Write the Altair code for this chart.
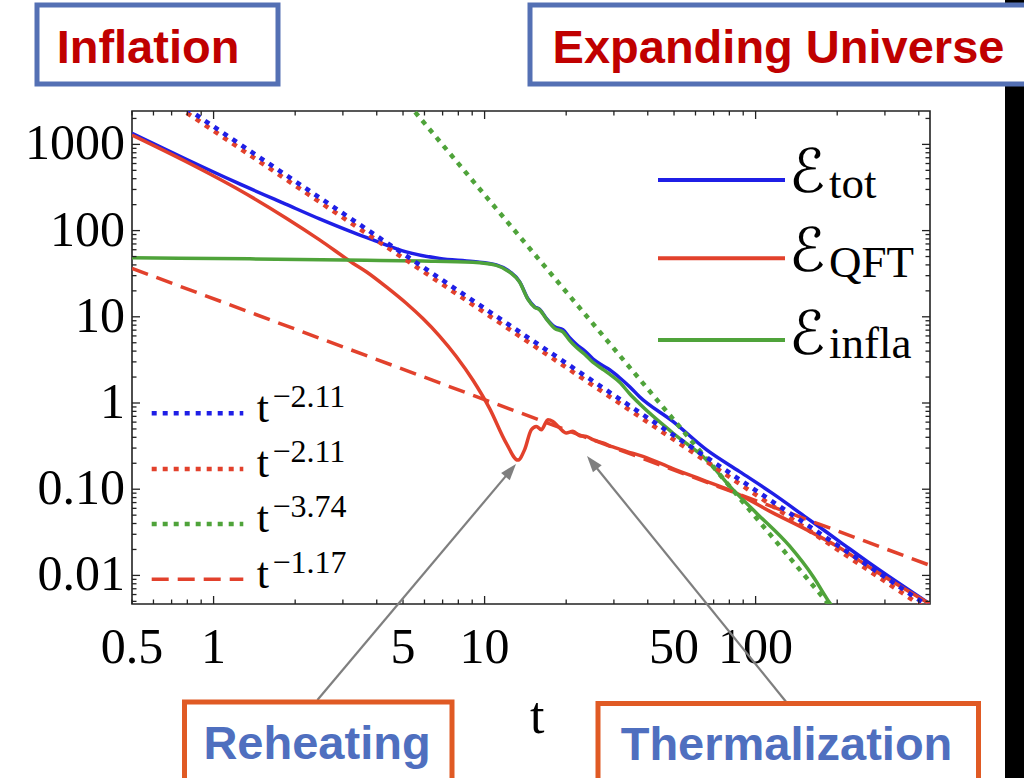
import altair as alt
import pandas as pd

# ---------------- energy densities vs time ----------------
t_tot = [0.5, 0.793, 1.213, 1.855, 2.461, 3.266, 3.871, 5.14, 6.82, 9.05, 11.05, 12.37,
         13.46, 14.45, 15.30, 15.96, 16.89, 18.13, 19.45, 20.59, 21.80, 23.39, 25.09,
         26.96, 28.93, 31.5, 34.3, 37.3, 49.5, 65.8, 87.3, 115.8, 153.9, 204.2, 271, 438]
e_tot = [1345, 672, 361.9, 201.2, 136.6, 95.3, 78.0, 56.6, 47.6, 43.7, 40.0, 33.5,
         25.6, 16.2, 13.06, 12.22, 9.61, 7.66, 7.07, 5.71, 4.80, 4.04, 3.26,
         2.78, 2.43, 1.965, 1.545, 1.183, 0.612, 0.2877, 0.16, 0.0889, 0.0469, 0.0247, 0.01302, 0.0047]

t_qft = [0.5, 0.793, 1.213, 1.855, 2.461, 3.266, 3.66, 4.338, 5.14, 5.92, 6.82, 7.863,
         9.05, 10.43, 12.03, 13.27, 14.05, 14.87, 15.52, 16.19, 17.12, 17.87, 18.92,
         20.02, 21.18, 22.41, 23.73, 25.09, 27.33, 29.75, 33.33, 38.38, 49.5, 65.8, 82.5,
         115.8, 153.9, 204.2, 271, 438]
e_qft = [1285, 630, 310, 139.2, 78.0, 41.9, 33.3, 22.2, 14.34, 9.53, 5.976, 3.467,
         1.847, 0.866, 0.340, 0.2175, 0.2877, 0.490, 0.5356, 0.490, 0.6404, 0.612, 0.5133,
         0.449, 0.4688, 0.4179, 0.410, 0.3756, 0.344, 0.309, 0.2749, 0.2405, 0.1733, 0.1235,
         0.0938, 0.0531, 0.034, 0.0209, 0.0117, 0.0047]

t_infla = [0.5, 1.358, 3.66, 5.92, 9.05, 11.05, 12.37, 13.46, 14.45, 15.30, 15.96, 16.89,
           18.13, 19.45, 20.59, 21.80, 23.39, 25.09, 26.96, 28.93, 31.5, 34.3, 37.3, 49.5,
           65.8, 82.5, 100.6, 133.6, 162.7, 187.6, 195]
e_infla = [48.5, 47.0, 45.3, 44.4, 42.9, 39.5, 33.0, 25.3, 15.95, 12.9, 12.05, 9.48,
           7.36, 6.70, 5.34, 4.43, 3.68, 2.97, 2.53, 2.157, 1.742, 1.282, 0.981, 0.449,
           0.2203, 0.0989, 0.0531, 0.0218, 0.00979, 0.00481, 0.00405]

# power-law fits  E = amplitude * t**exponent
fit_amplitudes = [1614, 1439, 1.43e6, 16.2]
fit_exponents = [-2.11, -2.11, -3.74, -1.17]
fit_labels = ["\u22122.11", "\u22122.11", "\u22123.74", "\u22121.17"]

# axes
x_label_values = [0.5, 1, 5, 10, 50, 100]
x_label_text = ["0.5", "1", "5", "10", "50", "100"]
y_label_values = [0.01, 0.1, 1, 10, 100, 1000]
y_label_text = ["0.01", "0.10", "1", "10", "100", "1000"]
x_major = [1, 10, 100]
x_minor = [0.5, 0.6, 0.7, 0.8, 0.9, 2, 3, 4, 5, 6, 7, 8, 9,
           20, 30, 40, 50, 60, 70, 80, 90, 200, 300, 400]
y_major = [0.01, 0.1, 1, 10, 100, 1000]
y_minor = [0.005, 0.006, 0.007, 0.008, 0.009,
           0.02, 0.03, 0.04, 0.05, 0.06, 0.07, 0.08, 0.09,
           0.2, 0.3, 0.4, 0.5, 0.6, 0.7, 0.8, 0.9,
           2, 3, 4, 5, 6, 7, 8, 9,
           20, 30, 40, 50, 60, 70, 80, 90,
           200, 300, 400, 500, 600, 700, 800, 900, 2000]

T_DOMAIN = [0.5, 440]
E_DOMAIN = [0.00466, 2440]

W, H = 798, 493
BLUE = "#1f1fe6"
RED = "#e2412c"
GREEN = "#4fa33a"
GRAY = "#7f7f7f"
FRAME = "#222222"
BOX_BLUE = "#5470b4"
BOX_ORANGE = "#e05a24"
TITLE_RED = "#c00000"
TEXT_BLUE = "#4f6fbf"
SERIF = "Liberation Serif, Times New Roman, serif"
SANS = "Liberation Sans, Arial, sans-serif"
SCRIPT = "DejaVu Serif, DejaVu Sans, serif"

xs = alt.Scale(type="log", domain=T_DOMAIN, nice=False)
ys = alt.Scale(type="log", domain=E_DOMAIN, nice=False)

DOT = [5, 6]
DASH = [17, 9]
SOLID_W = 3.5
DOT_W = 4.5
DASH_W = 3.5


def line_layer(ts, es, color, width=SOLID_W, dash=None, interp="monotone"):
    df = pd.DataFrame({"t": ts, "E": es})
    kw = dict(color=color, strokeWidth=width, clip=True, interpolate=interp)
    if dash is not None:
        kw["strokeDash"] = dash
    return alt.Chart(df).mark_line(**kw).encode(
        x=alt.X("t:Q", scale=xs, axis=None), y=alt.Y("E:Q", scale=ys, axis=None))


def fit_layer(amp, expo, color, dash, width):
    ts = list(T_DOMAIN)
    return line_layer(ts, [amp * t ** expo for t in ts], color, width=width, dash=dash,
                      interp="linear")


def x_ticks(vals, length):
    df = pd.DataFrame({"t": vals})
    bottom = alt.Chart(df).mark_rule(color=FRAME, strokeWidth=1.3).encode(
        x=alt.X("t:Q", scale=xs, axis=None), y=alt.value(H), y2=alt.value(H - length))
    top = alt.Chart(df).mark_rule(color=FRAME, strokeWidth=1.3).encode(
        x=alt.X("t:Q", scale=xs, axis=None), y=alt.value(0), y2=alt.value(length))
    return [bottom, top]


def y_ticks(vals, length):
    df = pd.DataFrame({"E": vals})
    left = alt.Chart(df).mark_rule(color=FRAME, strokeWidth=1.3).encode(
        y=alt.Y("E:Q", scale=ys, axis=None), x=alt.value(0), x2=alt.value(length))
    right = alt.Chart(df).mark_rule(color=FRAME, strokeWidth=1.3).encode(
        y=alt.Y("E:Q", scale=ys, axis=None), x=alt.value(W), x2=alt.value(W - length))
    return [left, right]


def text(s, x, y, size, color="black", font=SERIF, weight="normal", align="left"):
    return alt.Chart(pd.DataFrame({"s": [s]})).mark_text(
        font=font, fontSize=size, fontWeight=weight, color=color, align=align,
        baseline="alphabetic").encode(x=alt.value(x), y=alt.value(y), text="s:N")


def box(x1, x2, y1, y2, stroke, width=5, fill="white"):
    return alt.Chart(pd.DataFrame({"a": [0]})).mark_rect(
        fill=fill, stroke=stroke, strokeWidth=width).encode(
        x=alt.value(x1), x2=alt.value(x2), y=alt.value(y1), y2=alt.value(y2))


def seg(x1, y1, x2, y2, color, width, dash=None):
    kw = dict(color=color, strokeWidth=width)
    if dash is not None:
        kw["strokeDash"] = dash
    return alt.Chart(pd.DataFrame({"a": [0]})).mark_rule(**kw).encode(
        x=alt.value(x1), y=alt.value(y1), x2=alt.value(x2), y2=alt.value(y2))


def arrow(x0, y0, xt, yt, angle):
    dx, dy = xt - x0, yt - y0
    n = (dx * dx + dy * dy) ** 0.5
    shaft = seg(x0, y0, xt - dx / n * 8, yt - dy / n * 8, GRAY, 2.2)
    head = alt.Chart(pd.DataFrame({"a": [0]})).mark_point(
        shape="M0,0L0.55,1.6L-0.55,1.6Z", size=420, filled=True, color=GRAY,
        opacity=1, angle=angle).encode(x=alt.value(xt), y=alt.value(yt))
    return [shaft, head]


layers = []
# dark strip along the right edge, under the heading box
layers.append(box(873, 900, -120, 680, "black", width=0, fill="black"))

# headings
layers.append(box(-95, 146, -106, -27, BOX_BLUE))
layers.append(box(398, 910, -106, -27, BOX_BLUE))
layers.append(text("Inflation", 16, -48, 47, TITLE_RED, SANS, "bold", "center"))
layers.append(text("Expanding Universe", 646.5, -48, 47, TITLE_RED, SANS, "bold", "center"))

# tick labels, placed through the log scales
layers.append(alt.Chart(pd.DataFrame({"t": x_label_values, "lab": x_label_text})).mark_text(
    font=SERIF, fontSize=50, color="black", align="center", baseline="alphabetic").encode(
    x=alt.X("t:Q", scale=xs, axis=None), y=alt.value(H + 58.8), text="lab:N"))
layers.append(alt.Chart(pd.DataFrame({"E": y_label_values, "lab": y_label_text})).mark_text(
    font=SERIF, fontSize=50, color="black", align="right", baseline="middle").encode(
    y=alt.Y("E:Q", scale=ys, axis=None), x=alt.value(-7), text="lab:N"))

# curves
layers.append(line_layer(t_tot, e_tot, BLUE))
layers.append(line_layer(t_qft, e_qft, RED))
layers.append(line_layer(t_infla, e_infla, GREEN))

# fits
layers.append(fit_layer(fit_amplitudes[3], fit_exponents[3], RED, DASH, DASH_W))
layers.append(fit_layer(fit_amplitudes[2], fit_exponents[2], GREEN, DOT, DOT_W))
layers.append(fit_layer(fit_amplitudes[1], fit_exponents[1], RED, DOT, DOT_W))
layers.append(fit_layer(fit_amplitudes[0], fit_exponents[0], BLUE, DOT, DOT_W))

# frame ticks
layers += x_ticks(x_major, 8) + x_ticks(x_minor, 4.5)
layers += y_ticks(y_major, 8) + y_ticks(y_minor, 4.5)

# curve legend
curve_rows = [("tot", BLUE), ("QFT", RED), ("infla", GREEN)]
row_y = [69, 147.3, 229]
script_base = [81, 159.5, 242.5]
sub_base = [87, 166, 247]
for (sub, col), ly, sb, bb in zip(curve_rows, row_y, script_base, sub_base):
    layers.append(seg(526, ly, 653, ly, col, 4))
    layers.append(text("\u2130", 657, sb, 60, "black", SCRIPT))
    layers.append(text(sub, 697, bb, 45, "black", SERIF))

# fit legend
fit_styles = [(BLUE, DOT, DOT_W), (RED, DOT, DOT_W), (GREEN, DOT, DOT_W), (RED, DASH, DASH_W)]
fit_row_y = [302.3, 358, 413, 468.3]
for (col, dash, wd), ly, lab in zip(fit_styles, fit_row_y, fit_labels):
    layers.append(seg(19.7, ly, 111.3, ly, col, wd, dash))
    layers.append(text("t", 124.7, ly + 8.4, 44))
    layers.append(text(lab, 140.5, ly - 6.6, 32))

# axis title
layers.append(text("t", 398, 622, 52))

# stage annotations
layers += arrow(185.4, 589, 384, 353, 40)
layers += arrow(654, 590.7, 455, 345, 321)
layers.append(box(52.5, 320, 591, 700, BOX_ORANGE))
layers.append(box(466, 846.5, 592.5, 700, BOX_ORANGE))
layers.append(text("Reheating", 185, 648, 47, TEXT_BLUE, SANS, "bold", "center"))
layers.append(text("Thermalization", 654.5, 649, 47, TEXT_BLUE, SANS, "bold", "center"))

chart = alt.layer(*layers).properties(
    width=W, height=H,
    padding={"left": 132, "top": 111, "right": 94, "bottom": 174},
    autosize=alt.AutoSizeParams(type="none"),
    background="white",
).configure_view(stroke=FRAME, strokeWidth=1.6)

chart.save("out.html", embed_options={"renderer": "svg", "actions": False})
